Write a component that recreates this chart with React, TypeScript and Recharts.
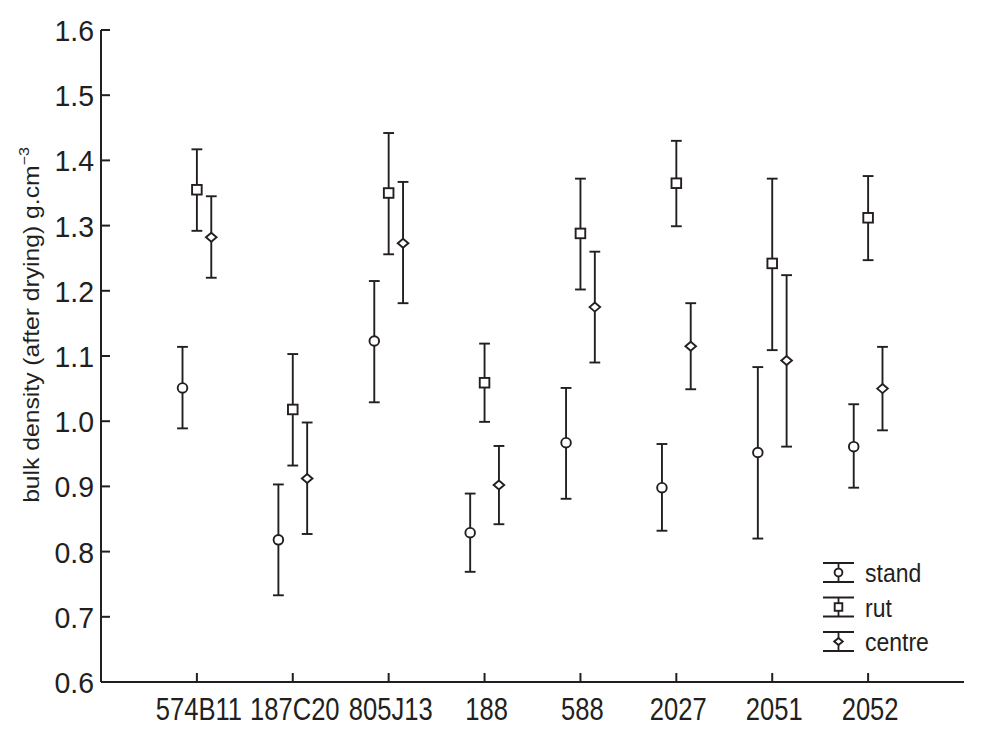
import React from 'react';
import { ScatterChart, Scatter, XAxis, YAxis, ErrorBar, Legend } from 'recharts';

const categories = ['574B11', '187C20', '805J13', '188', '588', '2027', '2051', '2052'];
const categoryPositions = [1, 2, 3, 4, 5, 6, 7, 8];
const yTicks = [0.6, 0.7, 0.8, 0.9, 1.0, 1.1, 1.2, 1.3, 1.4, 1.5, 1.6];
const seriesNames = ['stand', 'rut', 'centre'];

const standMean = [1.051, 0.818, 1.123, 0.829, 0.967, 0.898, 0.952, 0.961];
const standLow = [0.989, 0.733, 1.029, 0.769, 0.881, 0.832, 0.820, 0.898];
const standHigh = [1.114, 0.903, 1.215, 0.889, 1.051, 0.965, 1.083, 1.026];

const rutMean = [1.355, 1.018, 1.350, 1.059, 1.288, 1.365, 1.242, 1.312];
const rutLow = [1.292, 0.932, 1.256, 0.999, 1.202, 1.299, 1.109, 1.247];
const rutHigh = [1.417, 1.103, 1.442, 1.119, 1.372, 1.430, 1.372, 1.376];

const centreMean = [1.282, 0.912, 1.273, 0.902, 1.175, 1.115, 1.093, 1.050];
const centreLow = [1.220, 0.827, 1.181, 0.842, 1.090, 1.049, 0.961, 0.986];
const centreHigh = [1.345, 0.998, 1.367, 0.962, 1.260, 1.181, 1.224, 1.114];

const INK = '#231f20';
const FONT = '"Liberation Sans", Arial, Helvetica, sans-serif';
const DODGE = 0.15;

function buildSeries(mean: number[], low: number[], high: number[], offset: number) {
  return mean.map((m, i) => ({
    x: categoryPositions[i] + offset,
    y: m,
    err: [m - low[i], high[i] - m],
  }));
}

const standData = buildSeries(standMean, standLow, standHigh, -DODGE);
const rutData = buildSeries(rutMean, rutLow, rutHigh, 0);
const centreData = buildSeries(centreMean, centreLow, centreHigh, DODGE);

const CircleMark = ({ cx, cy, r = 4.8 }: any) => (
  <circle cx={cx} cy={cy} r={r} fill="#fff" stroke={INK} strokeWidth={1.9} />
);
const SquareMark = ({ cx, cy, s = 4.8 }: any) => (
  <rect x={cx - s} y={cy - s} width={2 * s} height={2 * s} fill="#fff" stroke={INK} strokeWidth={1.9} />
);
const DiamondMark = ({ cx, cy, w = 5.3, h = 4.5 }: any) => (
  <polygon
    points={`${cx - w},${cy} ${cx},${cy - h} ${cx + w},${cy} ${cx},${cy + h}`}
    fill="#fff"
    stroke={INK}
    strokeWidth={1.9}
  />
);

const markerByName: Record<string, any> = {
  stand: (p: any) => <CircleMark cx={p.cx} cy={p.cy} r={3.9} />,
  rut: (p: any) => <SquareMark cx={p.cx} cy={p.cy} s={3.8} />,
  centre: (p: any) => <DiamondMark cx={p.cx} cy={p.cy} w={4.3} h={3.6} />,
};

const BottomTick = ({ x, y, payload }: any) => (
  <g>
    <line x1={x} x2={x} y1={y} y2={y - 9} stroke={INK} strokeWidth={2} />
    <text
      transform={`translate(${x + 2},${y + 38}) scale(0.8,1)`}
      textAnchor="middle"
      fontSize={32}
      fontFamily={FONT}
      fill={INK}
    >
      {categories[payload.value - 1]}
    </text>
  </g>
);

const TopTick = ({ x, y }: any) => (
  <line x1={x} x2={x} y1={y} y2={y + 9} stroke={INK} strokeWidth={2} />
);

const LeftTick = ({ x, y, payload }: any) => (
  <g>
    <line x1={x} x2={x + 9} y1={y} y2={y} stroke={INK} strokeWidth={2} />
    <text
      transform={`translate(${x - 7},${y + 11}) scale(0.95,1)`}
      textAnchor="end"
      fontSize={30}
      fontFamily={FONT}
      fill={INK}
    >
      {Number(payload.value).toFixed(1)}
    </text>
  </g>
);

const RightTick = ({ x, y }: any) => (
  <line x1={x} x2={x - 9} y1={y} y2={y} stroke={INK} strokeWidth={2} />
);

const YTitle = () => (
  <text
    transform="translate(31,317) scale(0.88,1) rotate(-90)"
    textAnchor="middle"
    fontSize={24.7}
    fontFamily={FONT}
    fill={INK}
  >
    bulk density (after drying) g.cm
    <tspan dy={-11} fontSize={16}>−3</tspan>
  </text>
);

const LegendContent = () => (
  <svg width={140} height={120} style={{ display: 'block', overflow: 'visible' }}>
    {seriesNames.map((name, i) => {
      const top = 15 + i * 34.5;
      const bottom = top + 19;
      const mid = (top + bottom) / 2;
      const cx = 20.5;
      const Mark = markerByName[name];
      return (
        <g key={name}>
          <line x1={5} x2={36} y1={top} y2={top} stroke={INK} strokeWidth={2} />
          <line x1={5} x2={36} y1={bottom} y2={bottom} stroke={INK} strokeWidth={2} />
          <line x1={cx} x2={cx} y1={top} y2={bottom} stroke={INK} strokeWidth={1.8} />
          {Mark({ cx, cy: mid })}
          <text
            transform={`translate(47,${bottom}) scale(0.92,1)`}
            fontSize={25}
            fontFamily={FONT}
            fill={INK}
          >
            {name}
          </text>
        </g>
      );
    })}
  </svg>
);

export default function App() {
  return (
    <div style={{ width: 966, height: 720, background: '#fff' }}>
      <ScatterChart width={966} height={720} margin={{ top: 22, right: 10, bottom: 0, left: 0 }}>
        <XAxis
          dataKey="x"
          type="number"
          domain={[0, 9]}
          ticks={categoryPositions}
          interval={0}
          allowDataOverflow
          tickSize={0}
          tickMargin={0}
          tickLine={false}
          height={46}
          axisLine={{ stroke: INK, strokeWidth: 2 }}
          tick={BottomTick}
        />
        <XAxis
          xAxisId="top"
          orientation="top"
          dataKey="x"
          type="number"
          domain={[0, 9]}
          ticks={categoryPositions}
          interval={0}
          allowDataOverflow
          tickSize={0}
          tickMargin={0}
          tickLine={false}
          height={0}
          axisLine={{ stroke: INK, strokeWidth: 2 }}
          tick={TopTick}
        />
        <YAxis
          dataKey="y"
          type="number"
          domain={[0.6, 1.6]}
          ticks={yTicks}
          interval={0}
          allowDataOverflow
          tickSize={0}
          tickMargin={0}
          tickLine={false}
          width={93}
          axisLine={{ stroke: INK, strokeWidth: 2 }}
          tick={LeftTick}
          label={{ content: () => <YTitle /> }}
        />
        <YAxis
          yAxisId="right"
          orientation="right"
          dataKey="y"
          type="number"
          domain={[0.6, 1.6]}
          ticks={yTicks}
          interval={0}
          allowDataOverflow
          tickSize={0}
          tickMargin={0}
          tickLine={false}
          width={0}
          axisLine={{ stroke: INK, strokeWidth: 2 }}
          tick={RightTick}
        />
        <Legend
          layout="vertical"
          align="center"
          verticalAlign="middle"
          wrapperStyle={{ left: 810, top: 540, width: 140, height: 120 }}
          content={LegendContent}
        />
        <Scatter name="stand" data={standData} isAnimationActive={false} shape={(p: any) => <CircleMark cx={p.cx} cy={p.cy} />}>
          <ErrorBar dataKey="err" direction="y" width={5.4} stroke={INK} strokeWidth={1.9} isAnimationActive={false} />
        </Scatter>
        <Scatter name="rut" data={rutData} isAnimationActive={false} shape={(p: any) => <SquareMark cx={p.cx} cy={p.cy} />}>
          <ErrorBar dataKey="err" direction="y" width={5.4} stroke={INK} strokeWidth={1.9} isAnimationActive={false} />
        </Scatter>
        <Scatter name="centre" data={centreData} isAnimationActive={false} shape={(p: any) => <DiamondMark cx={p.cx} cy={p.cy} />}>
          <ErrorBar dataKey="err" direction="y" width={5.4} stroke={INK} strokeWidth={1.9} isAnimationActive={false} />
        </Scatter>
      </ScatterChart>
    </div>
  );
}
